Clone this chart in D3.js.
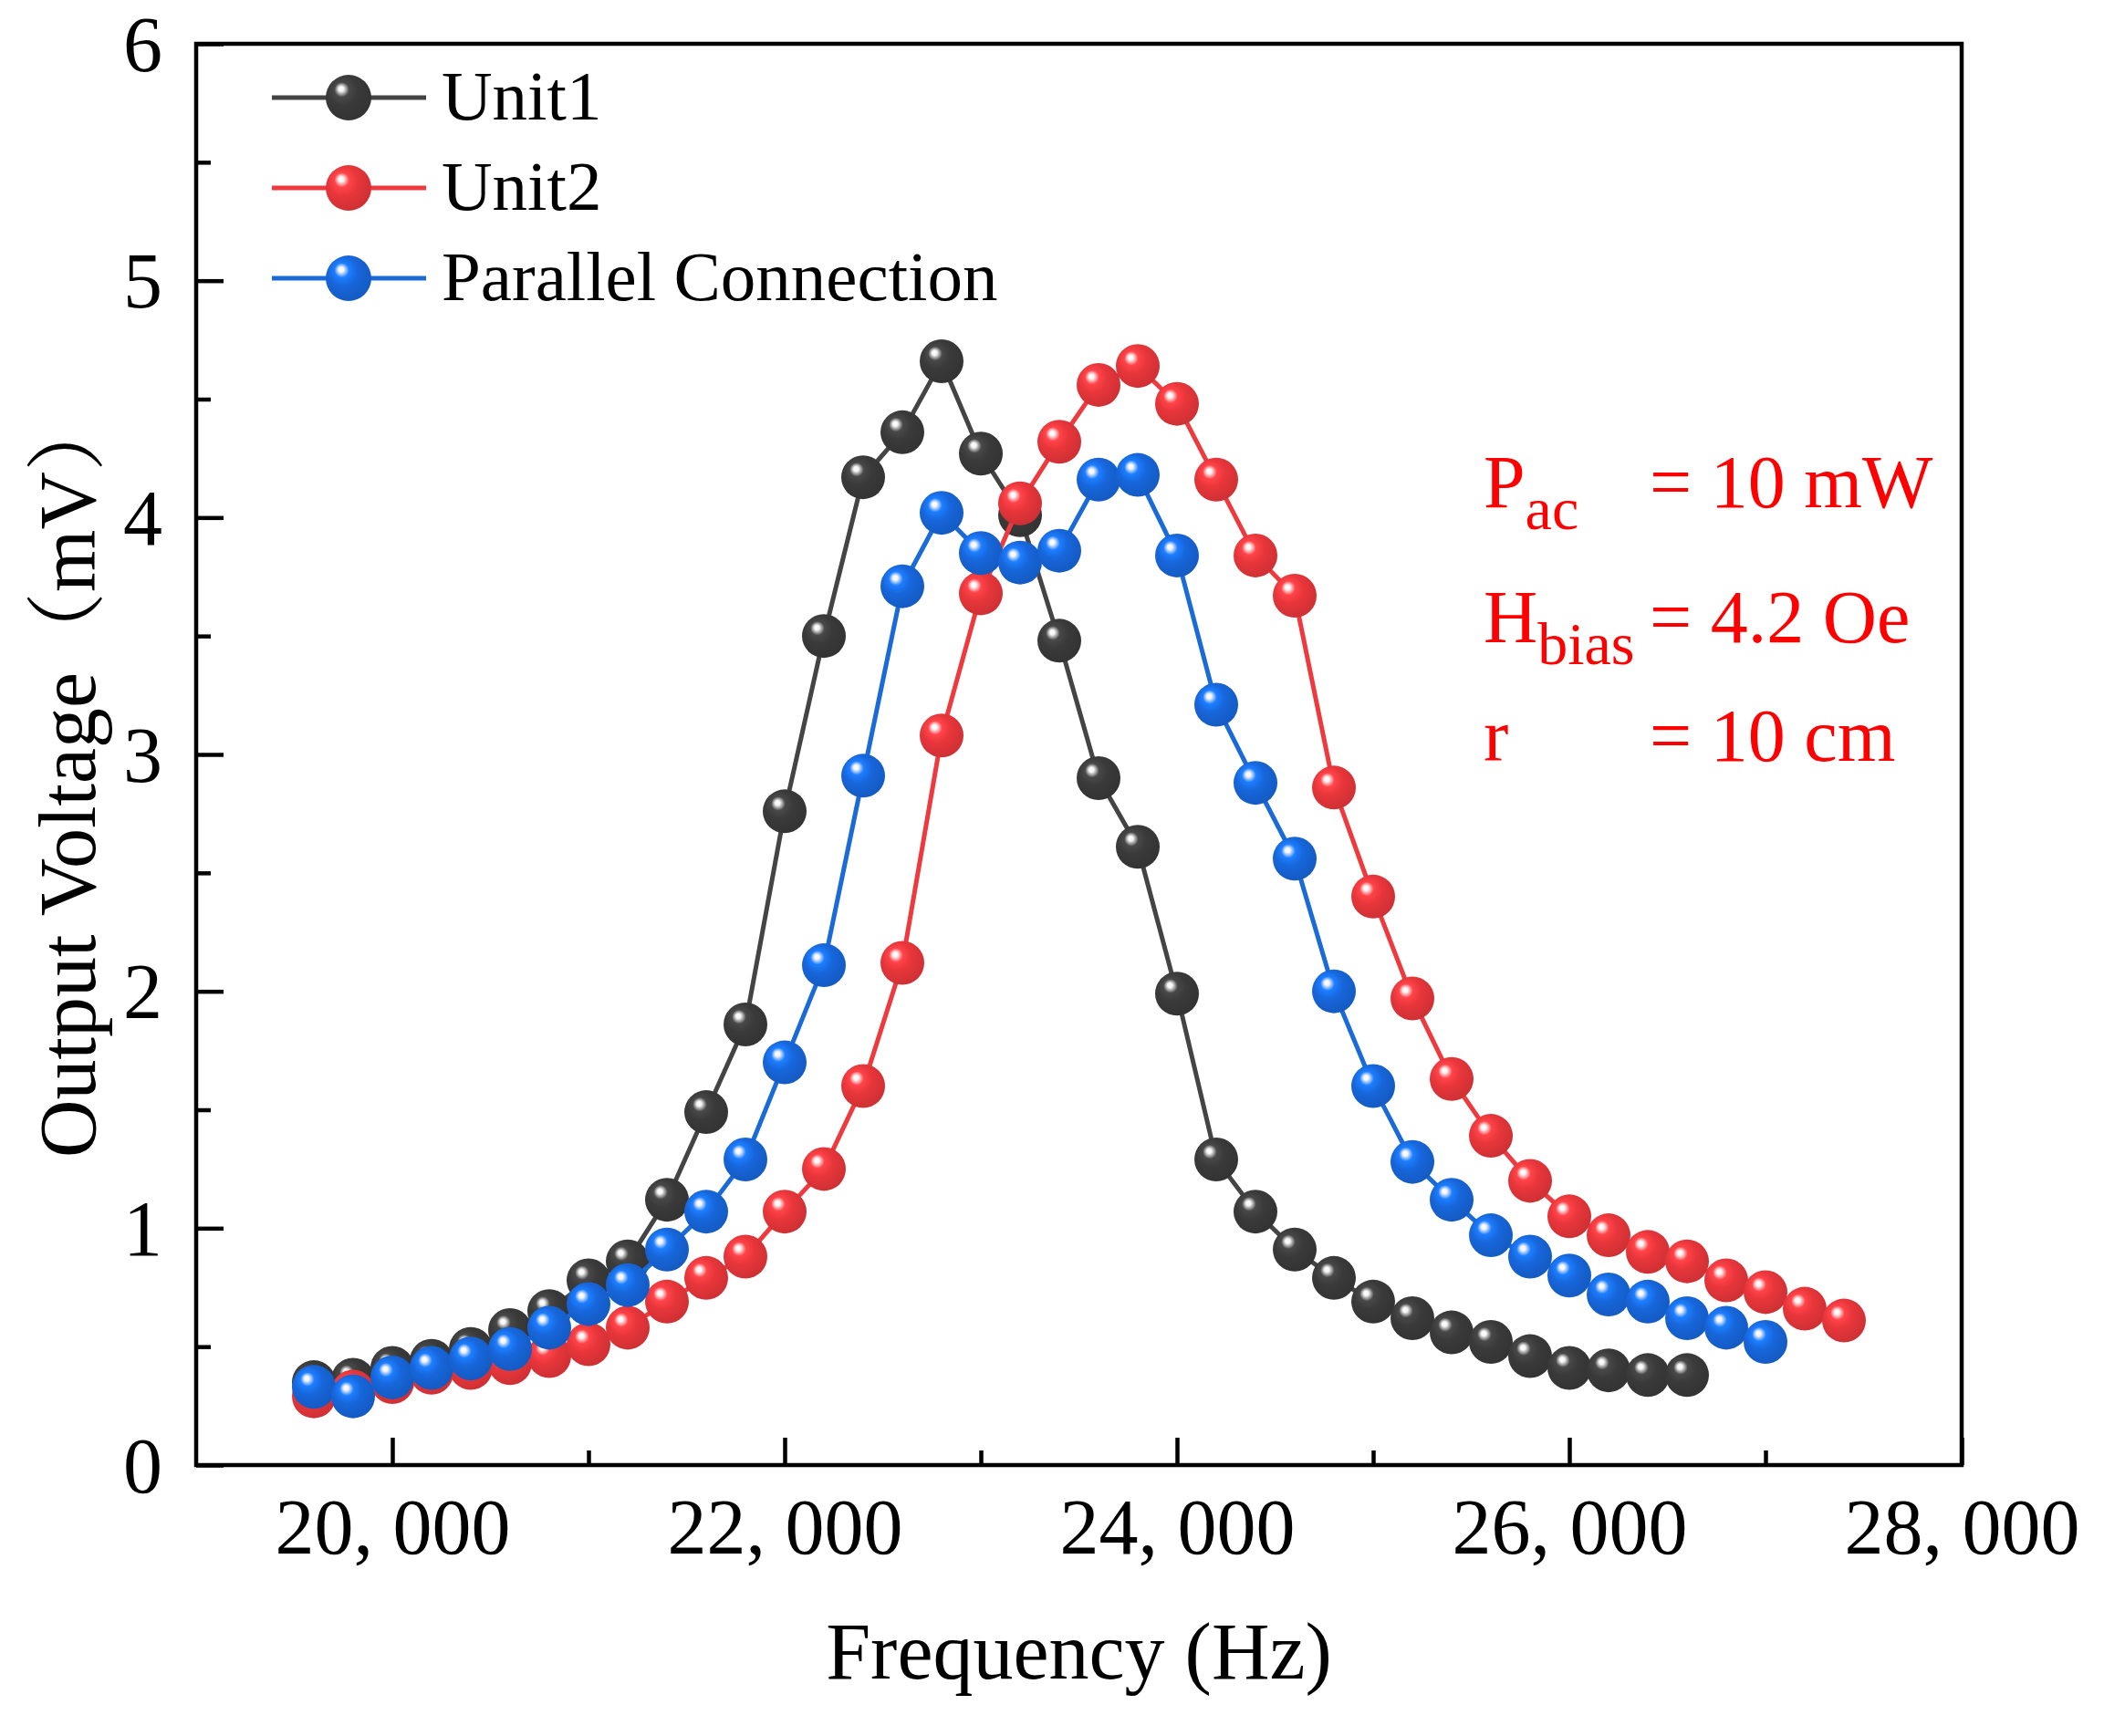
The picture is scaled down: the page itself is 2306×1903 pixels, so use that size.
<!DOCTYPE html>
<html>
<head>
<meta charset="utf-8">
<script src="https://d3js.org/d3.v7.min.js"></script>
<style>
  body { margin: 0; background: #fff; }
  text { font-family: "Liberation Serif", "Noto Serif CJK SC", "Noto Sans CJK SC", serif; }
</style>
</head>
<body>
<svg id="chart" width="2306" height="1903"></svg>
<script>
// frequency steps (Hz), shared by all three series
var freqs = [19600, 19800, 20000, 20200, 20400, 20600, 20800, 21000, 21200, 21400,
             21600, 21800, 22000, 22200, 22400, 22600, 22800, 23000, 23200, 23400,
             23600, 23800, 24000, 24200, 24400, 24600, 24800, 25000, 25200, 25400,
             25600, 25800, 26000, 26200, 26400, 26600, 26800, 27000, 27200, 27400];

// output voltage (mV)
var unit1 = [0.35, 0.36, 0.41, 0.44, 0.49, 0.57, 0.65, 0.78, 0.86, 1.12,
             1.49, 1.86, 2.76, 3.50, 4.17, 4.36, 4.66, 4.27, 4.01, 3.48,
             2.90, 2.61, 1.99, 1.29, 1.07, 0.91, 0.79, 0.69, 0.62, 0.56,
             0.52, 0.46, 0.41, 0.40, 0.38, 0.38];
var unit2 = [0.29, 0.31, 0.35, 0.39, 0.41, 0.43, 0.46, 0.51, 0.58, 0.69,
             0.79, 0.88, 1.07, 1.25, 1.60, 2.12, 3.08, 3.68, 4.06, 4.32,
             4.56, 4.64, 4.48, 4.16, 3.84, 3.67, 2.86, 2.40, 1.97, 1.63,
             1.39, 1.20, 1.05, 0.97, 0.90, 0.86, 0.78, 0.73, 0.66, 0.61];
var parallel = [0.33, 0.29, 0.37, 0.41, 0.45, 0.49, 0.58, 0.68, 0.76, 0.91,
                1.07, 1.29, 1.70, 2.11, 2.91, 3.71, 4.02, 3.85, 3.81, 3.86,
                4.16, 4.18, 3.84, 3.21, 2.88, 2.56, 2.00, 1.60, 1.28, 1.12,
                0.97, 0.88, 0.80, 0.72, 0.69, 0.62, 0.58, 0.52];

var seriesNames = ["Unit1", "Unit2", "Parallel Connection"];
var xTicks = [20000, 22000, 24000, 26000, 28000];
var xMinor = [21000, 23000, 25000, 27000];
var yTicks = [0, 1, 2, 3, 4, 5, 6];
var yMinor = [0.5, 1.5, 2.5, 3.5, 4.5, 5.5];

var series = [
	{ name: seriesNames[0], values: unit1, line: "#444444", ball: "#3a3a3a", id: "g0" },
	{ name: seriesNames[1], values: unit2, line: "#ee3a3e", ball: "#e8363b", id: "g1" },
	{ name: seriesNames[2], values: parallel, line: "#1a6ad8", ball: "#1766db", id: "g2" }
];

var LEFT = 215, RIGHT = 2150, TOP = 48, BOTTOM = 1606;
var R = 24;

var svg = d3.select("#chart");
svg.append("rect").attr("width", 2306).attr("height", 1903).attr("fill", "#fff");

var x = d3.scaleLinear().domain([19000, 28000]).range([LEFT, RIGHT]);
var y = d3.scaleLinear().domain([0, 6]).range([BOTTOM, TOP]);

// shiny ball gradients
var defs = svg.append("defs");
series.forEach(function(s) {
	var g = defs.append("radialGradient")
		.attr("id", s.id)
		.attr("cx", 0.42).attr("cy", 0.4)
		.attr("fx", 0.33).attr("fy", 0.3)
		.attr("r", 0.62);
	var c = d3.color(s.ball);
	g.append("stop").attr("offset", "0%").attr("stop-color", "#ffffff");
	g.append("stop").attr("offset", "9%").attr("stop-color", "#f4f4f4");
	g.append("stop").attr("offset", "26%").attr("stop-color", c.brighter(0.6));
	g.append("stop").attr("offset", "52%").attr("stop-color", c);
	g.append("stop").attr("offset", "100%").attr("stop-color", c.darker(0.35));
});

var line = d3.line()
	.x(function(d) { return x(d[0]); })
	.y(function(d) { return y(d[1]); });

// data series: line then balls, one series at a time
series.forEach(function(s) {
	var pts = s.values.map(function(v, i) { return [freqs[i], v]; });
	var grp = svg.append("g");
	grp.append("path")
		.attr("d", line(pts))
		.attr("fill", "none")
		.attr("stroke", s.line)
		.attr("stroke-width", 5);
	grp.selectAll("circle")
		.data(pts)
		.enter()
		.append("circle")
		.attr("cx", function(d) { return x(d[0]); })
		.attr("cy", function(d) { return y(d[1]); })
		.attr("r", R)
		.attr("fill", "url(#" + s.id + ")");
});

// axes, ticks pointing inward
var fmt = function(d) { return d3.format(",")(d).replace(",", ", "); };

var xAxis = svg.append("g").attr("transform", "translate(0," + BOTTOM + ")")
	.call(d3.axisBottom(x).tickValues(xTicks).tickSize(-30).tickPadding(80).tickFormat(fmt));
var xMin = svg.append("g").attr("transform", "translate(0," + BOTTOM + ")")
	.call(d3.axisBottom(x).tickValues(xMinor).tickSize(-16).tickFormat(""));
var yAxis = svg.append("g").attr("transform", "translate(" + LEFT + ",0)")
	.call(d3.axisLeft(y).tickValues(yTicks).tickSize(-30).tickPadding(37).tickFormat(d3.format("d")));
var yMin = svg.append("g").attr("transform", "translate(" + LEFT + ",0)")
	.call(d3.axisLeft(y).tickValues(yMinor).tickSize(-16).tickFormat(""));

[xAxis, xMin, yAxis, yMin].forEach(function(a) {
	a.select(".domain").remove();
	a.selectAll(".tick line").attr("stroke", "#000").attr("stroke-width", 4.5);
	a.selectAll(".tick text")
		.attr("fill", "#000")
		.style("font-family", "'Liberation Serif', serif")
		.attr("font-size", 86);
});
xAxis.selectAll(".tick text").attr("dy", "0.2em");
yAxis.selectAll(".tick text").attr("dy", "0.34em");

// frame
svg.append("rect")
	.attr("x", LEFT).attr("y", TOP)
	.attr("width", RIGHT - LEFT).attr("height", BOTTOM - TOP)
	.attr("fill", "none")
	.attr("stroke", "#000")
	.attr("stroke-width", 4.5);

// axis titles
svg.append("text")
	.attr("x", (LEFT + RIGHT) / 2)
	.attr("y", 1840)
	.attr("text-anchor", "middle")
	.attr("font-size", 88)
	.text("Frequency (Hz)");

svg.append("text")
	.attr("transform", "translate(104,849) rotate(-90)")
	.attr("text-anchor", "middle")
	.attr("font-size", 88)
	.text("Output Voltage（mV）");

// legend
var legend = svg.append("g");
series.forEach(function(s, i) {
	var ly = 107 + i * 99;
	legend.append("line")
		.attr("x1", 298).attr("x2", 467)
		.attr("y1", ly).attr("y2", ly)
		.attr("stroke", s.line)
		.attr("stroke-width", 5);
	legend.append("circle")
		.attr("cx", 382).attr("cy", ly)
		.attr("r", R + 1)
		.attr("fill", "url(#" + s.id + ")");
	legend.append("text")
		.attr("x", 484).attr("y", ly + 24)
		.attr("font-size", 77)
		.text(s.name);
});

// test conditions
var notes = [
	{ main: "P", sub: "ac", val: "= 10 mW", y: 556 },
	{ main: "H", sub: "bias", val: "= 4.2 Oe", y: 704 },
	{ main: "r", sub: "", val: "= 10 cm", y: 834 }
];
var ann = svg.append("g").attr("fill", "#ff0000");
notes.forEach(function(n) {
	var t = ann.append("text").attr("x", 1626).attr("y", n.y).attr("font-size", 82);
	t.append("tspan").text(n.main);
	if (n.sub)
		t.append("tspan").attr("dy", 24).attr("font-size", 66).text(n.sub);
	ann.append("text")
		.attr("x", 1808).attr("y", n.y)
		.attr("font-size", 82)
		.text(n.val);
});
</script>
</body>
</html>
